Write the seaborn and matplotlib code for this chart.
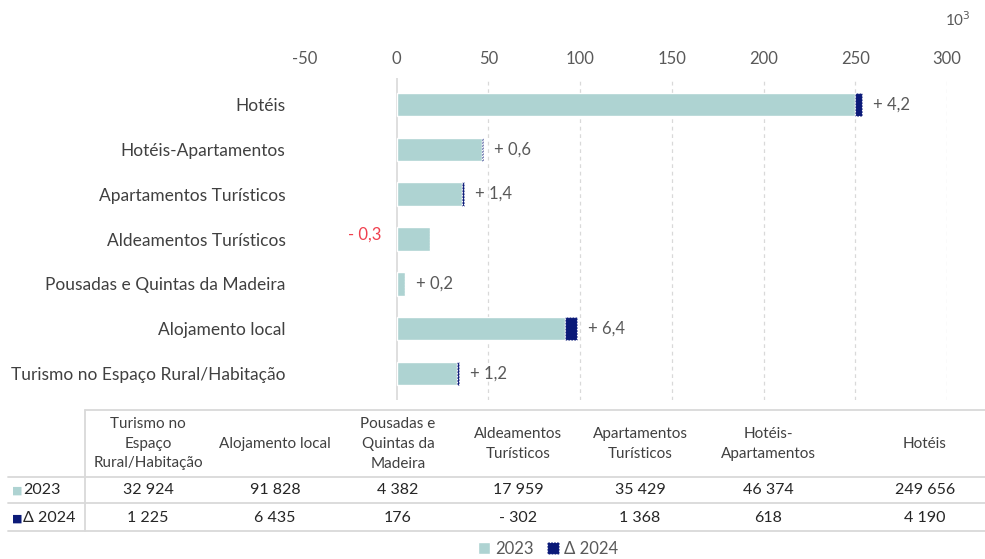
import matplotlib
matplotlib.use("Agg")
import matplotlib.pyplot as plt
import seaborn as sns
import pandas as pd
from matplotlib.lines import Line2D
from matplotlib.patches import Patch

# Data (table order, left to right)
categories = ["Turismo no Espaço Rural/Habitação", "Alojamento local",
              "Pousadas e Quintas da Madeira", "Aldeamentos Turísticos",
              "Apartamentos Turísticos", "Hotéis-Apartamentos", "Hotéis"]
table_headers = ["Turismo no\nEspaço\nRural/Habitação", "Alojamento local",
                 "Pousadas e\nQuintas da\nMadeira", "Aldeamentos\nTurísticos",
                 "Apartamentos\nTurísticos", "Hotéis-\nApartamentos", "Hotéis"]
values_2023 = [32924, 91828, 4382, 17959, 35429, 46374, 249656]
delta_2024 = [1225, 6435, 176, -302, 1368, 618, 4190]

teal = "#AED3D2"
navy = "#0B1A78"
grey_txt = "#595959"
line_col = "#D9D9D9"

sns.set_style("white")
plt.rcParams["font.family"] = ["Lato", "DejaVu Sans"]
plt.rcParams["axes.unicode_minus"] = False

df = pd.DataFrame({"cat": categories, "v2023": [v / 1000 for v in values_2023],
                   "d2024": [d / 1000 for d in delta_2024]})
df = df.iloc[::-1].reset_index(drop=True)  # bars: Hotéis on top

fig = plt.figure(figsize=(9.85, 5.59), dpi=100)
ax = fig.add_axes([305 / 985, 1 - 400 / 559, (947 - 305) / 985, (400 - 78) / 559])

sns.barplot(data=df, y="cat", x="v2023", color=teal, width=0.52, ax=ax,
            orient="h", saturation=1)
pos = range(len(df))
ax.barh(list(pos), [max(d, 0) for d in df["d2024"]], left=df["v2023"],
        height=0.52, color=navy, edgecolor="white", linestyle=":", linewidth=0.8)

for i, row in df.iterrows():
    d = row["d2024"]
    lab = f"{d:+.1f}".replace(".", ",")
    lab = lab[0] + " " + lab[1:]
    if d >= 0:
        ax.annotate(lab, (row["v2023"] + d, i), xytext=(8, 0), textcoords="offset points",
                    ha="left", va="center", fontsize=12, color=grey_txt)
    else:
        ax.annotate(lab, (0, i), xytext=(-11, 3), textcoords="offset points",
                    ha="right", va="center", fontsize=12, color="#F0404F")

ticks = [-50, 0, 50, 100, 150, 200, 250, 300]
ax.set_xlim(-50, 300)
ax.set_xticks(ticks)
ax.xaxis.tick_top()
ax.tick_params(axis="x", length=0, labelsize=12, labelcolor=grey_txt, pad=8)
ax.tick_params(axis="y", length=0, labelsize=12.5, labelcolor="#404040", pad=14)
for t in ticks:
    if t > 0:
        ax.axvline(t, color=line_col, ls=(0, (3, 3)), lw=0.9, zorder=0)
ax.axvline(0, color=line_col, lw=1.2, zorder=0)
ax.set_xlabel("")
ax.set_ylabel("")
for s in ax.spines.values():
    s.set_visible(False)
fig.text(958 / 985, 1 - 20 / 559, "10$^3$", ha="center", va="center",
         fontsize=11, color=grey_txt)

# Table drawn in pixel coordinates
tab = fig.add_axes([0, 0, 1, 1])
tab.set_xlim(0, 985)
tab.set_ylim(559, 0)
tab.axis("off")
col_x = [148, 275, 398, 518, 640, 768, 925]
for x, h in zip(col_x, table_headers):
    tab.text(x, 444, h, ha="center", va="center", fontsize=11, color="#404040",
             linespacing=1.5)
for x, v, d in zip(col_x, values_2023, delta_2024):
    tab.text(x, 490, f"{v:,}".replace(",", " "), ha="center", va="center",
             fontsize=11.5, color="#262626")
    dl = f"{abs(d):,}".replace(",", " ")
    tab.text(x, 518, ("- " + dl) if d < 0 else dl, ha="center", va="center",
             fontsize=11.5, color="#262626")
tab.text(12, 490, "■", ha="left", va="center", fontsize=8, color=teal)
tab.text(23, 490, "2023", ha="left", va="center", fontsize=11.5, color="#262626")
tab.text(12, 518, "■", ha="left", va="center", fontsize=8, color=navy)
tab.text(23, 518, "Δ 2024", ha="left", va="center", fontsize=11.5, color="#262626")
tab.add_line(Line2D([85, 985], [410, 410], color=line_col, lw=1.3))
for y in [477, 503, 531]:
    tab.add_line(Line2D([8, 985], [y, y], color=line_col, lw=1.3))
tab.add_line(Line2D([85, 85], [410, 531], color=line_col, lw=1.3))

handles = [Patch(facecolor=teal, label="2023"),
           Patch(facecolor=navy, edgecolor="white", linestyle=":", linewidth=0.8,
                 label="Δ 2024")]
fig.legend(handles=handles, loc="center", bbox_to_anchor=(548 / 985, 1 - 549 / 559),
           ncol=2, frameon=False, fontsize=12, handlelength=0.7, handleheight=0.7,
           handletextpad=0.3, columnspacing=0.8, labelcolor=grey_txt)

fig.savefig("out.png", dpi=100)
